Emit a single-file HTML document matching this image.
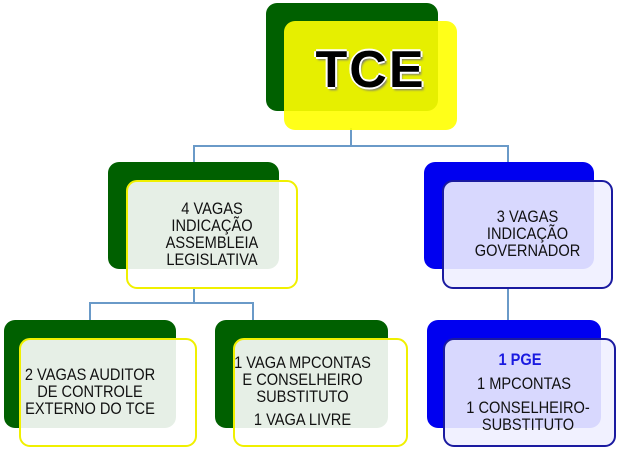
<!DOCTYPE html>
<html><head><meta charset="utf-8"><style>
body{margin:0;width:620px;height:458px;background:#fff;position:relative;overflow:hidden;font-family:"Liberation Sans",sans-serif}
.b{position:absolute;border-radius:11px;box-sizing:border-box}
.g{background:#006000}
.u{background:#0000f0}
.fy{border:2px solid #f0f000;background:rgba(255,255,255,0.9)}
.fb{border:2px solid #1a1aa0;background:rgba(240,240,255,0.9)}
.l{position:absolute;background:#6a9ac8}
.t{position:absolute;text-align:center;font-size:17px;line-height:17px;color:#111;transform:scaleX(0.86);transform-origin:center}
</style></head><body>
<div class="l" style="left:350px;top:128px;width:2px;height:19px"></div>
<div class="l" style="left:193px;top:145px;width:316px;height:2px"></div>
<div class="l" style="left:193px;top:145px;width:2px;height:18px"></div>
<div class="l" style="left:507px;top:145px;width:2px;height:18px"></div>
<div class="l" style="left:193px;top:288px;width:2px;height:15px"></div>
<div class="l" style="left:89px;top:302px;width:164px;height:2px"></div>
<div class="l" style="left:89px;top:302px;width:2px;height:18px"></div>
<div class="l" style="left:252px;top:302px;width:2px;height:18px"></div>
<div class="l" style="left:507px;top:288px;width:2px;height:33px"></div>

<div class="b g" style="left:266px;top:3px;width:172px;height:108px"></div>
<div class="b" style="left:284px;top:21px;width:173px;height:109px;background:rgba(255,255,0,0.9)"></div>
<div style="position:absolute;left:284px;top:38px;width:173px;text-align:center;font-weight:bold;font-size:52px;line-height:64px;color:#000;text-shadow:2px 0 0 #fff,-2px 0 0 #fff,0 2px 0 #fff,0 -2px 0 #fff,2px 3px 2px #777;letter-spacing:2px">TCE</div>

<div class="b g" style="left:108px;top:162px;width:171px;height:107px"></div>
<div class="b fy" style="left:126px;top:180px;width:172px;height:109px"></div>
<div class="t" style="left:126px;top:200px;width:172px">4 VAGAS<br>INDICAÇÃO<br>ASSEMBLEIA<br>LEGISLATIVA</div>

<div class="b u" style="left:424px;top:162px;width:170px;height:107px"></div>
<div class="b fb" style="left:442px;top:180px;width:171px;height:109px"></div>
<div class="t" style="left:442px;top:208px;width:171px">3 VAGAS<br>INDICAÇÃO<br>GOVERNADOR</div>

<div class="b g" style="left:4px;top:320px;width:172px;height:108px"></div>
<div class="b fy" style="left:19px;top:338px;width:178px;height:109px"></div>
<div class="t" style="left:0px;top:366px;width:180px">2 VAGAS AUDITOR<br>DE CONTROLE<br>EXTERNO DO TCE</div>

<div class="b g" style="left:215px;top:320px;width:173px;height:108px"></div>
<div class="b fy" style="left:233px;top:338px;width:175px;height:109px"></div>
<div class="t" style="left:210px;top:354px;width:185px">1 VAGA MPCONTAS<br>E CONSELHEIRO<br>SUBSTITUTO</div>
<div class="t" style="left:210px;top:411px;width:185px">1 VAGA LIVRE</div>

<div class="b u" style="left:427px;top:320px;width:174px;height:108px"></div>
<div class="b fb" style="left:443px;top:338px;width:173px;height:109px"></div>
<div class="t" style="left:440px;top:351px;width:160px;color:#1a1ae0;font-weight:bold">1 PGE</div>
<div class="t" style="left:440px;top:375px;width:168px">1 MPCONTAS</div>
<div class="t" style="left:434px;top:399px;width:188px">1 CONSELHEIRO-<br>SUBSTITUTO</div>
</body></html>
